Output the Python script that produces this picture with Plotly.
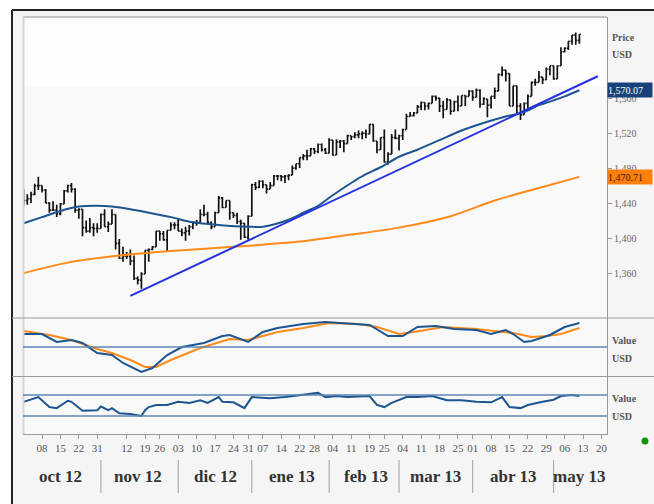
import pandas as pd
import plotly.graph_objects as go
from plotly.subplots import make_subplots

FONT = "Liberation Serif"

# ---------------- data ----------------
holidays = ["2012-10-29", "2012-10-30", "2012-11-22", "2012-12-25",
            "2013-01-01", "2013-01-21", "2013-02-18", "2013-03-29"]
dates = [d.strftime("%Y-%m-%d") for d in pd.bdate_range("2012-10-01", "2013-05-10")
         if d.strftime("%Y-%m-%d") not in holidays]

close = [1444,1446,1451,1461,1461,1456,1441,1433,1433,1429,1440,1455,1461,1457,1433,1434,1413,1409,1413,1412,1412,
         1428,1414,1417,1428,1395,1378,1380,1380,1375,1355,1353,1360,1387,1388,1391,1409,1406,1399,1410,1416,1416,
         1409,1407,1409,1414,1418,1419,1428,1428,1419,1414,1430,1447,1436,1444,1430,1427,1420,1418,1402,1426,
         1462,1459,1466,1462,1457,1461,1472,1472,1471,1472,1473,1481,1486,1493,1495,1495,1503,1500,1508,1502,1498,
         1513,1496,1511,1512,1509,1518,1517,1519,1520,1521,1520,1531,1512,1502,1516,1488,1497,1516,1515,
         1518,1525,1540,1541,1544,1551,1556,1552,1555,1563,1561,1552,1548,1559,1546,1557,1552,1564,1563,1569,
         1562,1570,1554,1560,1553,1563,1569,1588,1593,1589,1552,1575,1552,1542,1555,1563,1579,1579,1585,1582,1594,1598,
         1583,1598,1614,1618,1626,1633,1627,1634]
open_ = [1440,1444,1446,1451,1461,1461,1456,1441,1433,1433,1429,1440,1455,1461,1457,1433,1434,1413,1409,1413,1412,
         1412,1428,1414,1417,1428,1395,1378,1380,1380,1375,1355,1353,1360,1387,1388,1391,1409,1406,1399,1410,1416,
         1416,1409,1407,1409,1414,1418,1419,1428,1428,1419,1414,1430,1447,1436,1444,1430,1427,1420,1418,1402,
         1426,1462,1459,1466,1462,1457,1461,1472,1472,1471,1472,1473,1481,1486,1493,1495,1495,1503,1500,1508,1502,
         1498,1513,1496,1511,1512,1509,1518,1517,1519,1520,1521,1520,1531,1512,1502,1516,1488,1497,1516,
         1515,1518,1525,1540,1541,1544,1551,1556,1552,1555,1563,1561,1552,1548,1559,1546,1557,1552,1564,1563,
         1569,1562,1570,1554,1560,1553,1563,1569,1588,1593,1589,1552,1575,1552,1542,1555,1563,1579,1579,1585,1582,1594,
         1598,1583,1598,1614,1618,1626,1633,1627]
high = [1457,1451,1454,1463,1471,1461,1457,1442,1443,1439,1441,1456,1462,1464,1458,1435,1434,1421,1424,1418,1418,
        1429,1434,1420,1434,1428,1400,1391,1385,1388,1381,1357,1362,1387,1389,1392,1409,1409,1409,1410,1419,1419,
        1423,1412,1414,1416,1420,1422,1434,1439,1431,1420,1431,1449,1448,1444,1444,1430,1430,1422,1418,1427,
        1463,1465,1467,1467,1462,1465,1473,1473,1473,1473,1474,1484,1486,1493,1497,1502,1504,1504,1509,1509,1504,
        1515,1513,1514,1513,1513,1519,1518,1522,1524,1523,1525,1531,1531,1512,1516,1525,1499,1520,1525,
        1519,1526,1543,1545,1545,1553,1557,1556,1556,1564,1564,1561,1558,1561,1559,1558,1564,1564,1564,1570,
        1570,1572,1571,1562,1560,1563,1573,1589,1597,1593,1589,1575,1575,1555,1556,1565,1580,1583,1592,1585,1596,1598,
        1598,1598,1619,1619,1626,1633,1636,1634]
low = [1438,1439,1441,1450,1456,1453,1441,1430,1432,1425,1427,1440,1453,1453,1430,1423,1403,1407,1407,1403,1407,
       1412,1414,1408,1417,1388,1377,1374,1377,1370,1353,1348,1343,1360,1374,1387,1391,1398,1398,1385,1410,1411,
       1409,1403,1398,1404,1411,1415,1419,1426,1417,1411,1414,1430,1435,1436,1422,1424,1417,1399,1401,1399,
       1426,1456,1458,1458,1452,1457,1461,1467,1466,1464,1467,1473,1479,1481,1490,1490,1495,1497,1498,1500,1497,
       1498,1495,1496,1504,1499,1509,1513,1515,1515,1514,1515,1520,1511,1498,1502,1487,1485,1497,1514,
       1501,1513,1525,1540,1540,1544,1547,1547,1548,1555,1558,1545,1538,1548,1542,1546,1546,1552,1552,1563,
       1558,1562,1550,1553,1539,1549,1560,1569,1586,1580,1552,1552,1543,1536,1542,1549,1563,1575,1579,1577,1582,1587,
       1582,1583,1598,1613,1616,1622,1622,1623]

ma_fast_dates = ["2012-10-01","2012-10-08","2012-10-15","2012-10-22","2012-10-31","2012-11-06","2012-11-13",
                 "2012-11-20","2012-11-29","2012-12-07","2012-12-18","2012-12-31","2013-01-07","2013-01-16",
                 "2013-01-23","2013-01-29","2013-02-04","2013-02-11","2013-02-15","2013-02-22","2013-03-01",
                 "2013-03-08","2013-03-18","2013-03-26","2013-04-05","2013-04-12","2013-04-19","2013-04-25",
                 "2013-04-30","2013-05-06","2013-05-10"]
ma_fast = [1418,1425,1432,1437,1438,1437,1434,1430,1425,1419,1416,1414,1414,1422,1430,1438,1450,1464,1474,
           1482,1494,1502,1513,1524,1534,1540,1545,1553,1557,1563,1570]

ma_slow_dates = ["2012-10-01","2012-10-17","2012-11-08","2012-11-28","2012-12-24","2013-01-22","2013-02-11",
                 "2013-03-01","2013-03-21","2013-04-09","2013-04-23","2013-05-10"]
ma_slow = [1361,1373,1381,1386,1391,1397,1405,1413,1426,1444,1456,1471]

trend_dates = ["2012-11-13", "2013-05-17"]
trend_vals = [1335, 1586]

last_fast_label = "1,570.07"
last_fast_value = 1570.07
last_slow_label = "1,470.71"
last_slow_value = 1470.71

osc_dates = ["2012-10-01","2012-10-08","2012-10-12","2012-10-18","2012-10-23","2012-10-31","2012-11-06",
             "2012-11-09","2012-11-16","2012-11-21","2012-11-28","2012-12-04","2012-12-12","2012-12-19",
             "2012-12-21","2012-12-31","2013-01-07","2013-01-11","2013-01-23","2013-01-31","2013-02-06",
             "2013-02-19","2013-02-26","2013-03-04","2013-03-08","2013-03-15","2013-03-22","2013-04-02",
             "2013-04-08","2013-04-12","2013-04-16","2013-04-19","2013-04-23","2013-04-30","2013-05-06","2013-05-10"]
osc_vals = [13,13,5,7,4,-6,-8,-16,-25,-21,-8,0,4,11,12,5,15,19,23,25,24,22,11,11,20,21,18,17,13,17,13,5,6,12,20,24]

sig_dates = ["2012-10-01","2012-10-10","2012-10-18","2012-10-31","2012-11-06","2012-11-13","2012-11-19",
             "2012-11-23","2012-11-29","2012-12-11","2012-12-21","2012-12-31","2013-01-11","2013-01-23",
             "2013-02-01","2013-02-13","2013-02-21","2013-03-01","2013-03-07","2013-03-19","2013-04-02",
             "2013-04-11","2013-04-16","2013-04-23","2013-04-29","2013-05-03","2013-05-10"]
sig_vals = [16,12,7,-2,-6,-13,-20,-20,-13,-1,8,7,15,19,24,23,20,13,15,20,18,15,14,10,11,13,19]

rsi_dates = ["2012-10-01","2012-10-05","2012-10-10","2012-10-12","2012-10-17","2012-10-18","2012-10-23",
             "2012-10-31","2012-11-01","2012-11-05","2012-11-06","2012-11-08","2012-11-13","2012-11-16",
             "2012-11-19","2012-11-20","2012-11-23","2012-11-28","2012-12-03","2012-12-06","2012-12-11",
             "2012-12-13","2012-12-18","2012-12-19","2012-12-24","2012-12-28","2013-01-02","2013-01-09",
             "2013-01-15","2013-01-22","2013-01-29","2013-01-31","2013-02-05","2013-02-08","2013-02-19",
             "2013-02-21","2013-02-25","2013-02-27","2013-03-05","2013-03-08","2013-03-14","2013-03-20",
             "2013-03-26","2013-04-02","2013-04-08","2013-04-11","2013-04-15","2013-04-18","2013-04-22",
             "2013-04-26","2013-05-01","2013-05-03","2013-05-08","2013-05-10"]
rsi_vals = [57,66,47,45,59,57,40,41,48,41,45,35,34,30,41,47,51,51,57,55,60,55,66,57,56,45,66,64,66,70,74,66,
            68,66,68,51,47,55,66,66,68,60,60,57,56,66,47,45,51,57,61,68,70,68]
rsi_levels = [30, 70]

tick_dates = ["2012-10-08","2012-10-15","2012-10-22","2012-10-31","2012-11-12","2012-11-19","2012-11-26",
              "2012-12-03","2012-12-10","2012-12-17","2012-12-24","2012-12-31","2013-01-07","2013-01-14",
              "2013-01-22","2013-01-28","2013-02-04","2013-02-11","2013-02-19","2013-02-25","2013-03-04",
              "2013-03-11","2013-03-18","2013-03-25","2013-04-01","2013-04-08","2013-04-15","2013-04-22",
              "2013-04-29","2013-05-06","2013-05-13","2013-05-20"]
tick_text = [d[-2:] for d in tick_dates]

month_labels = ["oct 12", "nov 12", "dic 12", "ene 13", "feb 13", "mar 13", "abr 13", "may 13"]
month_label_dates = ["2012-10-15", "2012-11-15", "2012-12-17", "2013-01-17", "2013-02-15",
                     "2013-03-15", "2013-04-16", "2013-05-10"]
month_starts = ["2012-11-01", "2012-12-03", "2013-01-02", "2013-02-01", "2013-03-01", "2013-04-01", "2013-05-01"]

price_ticks = [1360, 1400, 1440, 1480, 1520, 1560]

# ---------------- figure ----------------
W, H = 654, 504
ML, MR, MT, MB = 23, 47, 17, 70
PW, PH = W - ML - MR, H - MT - MB
def px(x):
    return (x - ML) / PW
def py(y):
    return (H - MB - y) / PH

BLUE = "#1c5590"
ORANGE = "#ff8a1c"
TREND = "#2530e0"
LEVEL = "#5d86b4"

fig = make_subplots(rows=3, cols=1, shared_xaxes=True, vertical_spacing=0)

fig.add_trace(go.Ohlc(x=dates, open=open_, high=high, low=low, close=close,
                      increasing_line_color="#111", decreasing_line_color="#111",
                      line_width=1.7, tickwidth=0.4, showlegend=False, hoverinfo="skip"), row=1, col=1)
fig.add_trace(go.Scatter(x=ma_fast_dates, y=ma_fast, mode="lines",
                         line=dict(color=BLUE, width=2, shape="spline", smoothing=0.8),
                         showlegend=False, hoverinfo="skip"), row=1, col=1)
fig.add_trace(go.Scatter(x=ma_slow_dates, y=ma_slow, mode="lines",
                         line=dict(color=ORANGE, width=2, shape="spline", smoothing=0.8),
                         showlegend=False, hoverinfo="skip"), row=1, col=1)
fig.add_trace(go.Scatter(x=trend_dates, y=trend_vals, mode="lines",
                         line=dict(color=TREND, width=2), showlegend=False, hoverinfo="skip"), row=1, col=1)

fig.add_trace(go.Scatter(x=sig_dates, y=sig_vals, mode="lines", line=dict(color=ORANGE, width=2),
                         showlegend=False, hoverinfo="skip"), row=2, col=1)
fig.add_trace(go.Scatter(x=osc_dates, y=osc_vals, mode="lines", line=dict(color=BLUE, width=2),
                         showlegend=False, hoverinfo="skip"), row=2, col=1)
fig.add_trace(go.Scatter(x=rsi_dates, y=rsi_vals, mode="lines", line=dict(color=BLUE, width=2),
                         showlegend=False, hoverinfo="skip"), row=3, col=1)

# axes
xr = ["2012-09-28 20:00", "2013-05-21 12:00"]
breaks = [dict(bounds=["sat", "mon"]), dict(values=holidays)]
fig.update_xaxes(range=xr, rangebreaks=breaks, showgrid=False, zeroline=False,
                 rangeslider_visible=False, showticklabels=False, ticks="")
fig.update_xaxes(row=3, col=1, showticklabels=True, ticks="outside", ticklen=4, tickcolor="#999",
                 tickvals=tick_dates, ticktext=tick_text, tickangle=0,
                 tickfont=dict(family=FONT, size=11, color="#555"),
                 showline=True, linecolor="#9a9a9a", linewidth=1)

fig.update_yaxes(side="right", showgrid=False, zeroline=False, showline=True,
                 linecolor="#9a9a9a", linewidth=1)
fig.update_yaxes(row=1, col=1, range=[1309.7, 1653.7], tickvals=price_ticks, tickformat=",",
                 ticks="outside", ticklen=4, tickcolor="#999",
                 tickfont=dict(family=FONT, size=10, color="#666"))
fig.update_yaxes(row=2, col=1, range=[-29.5, 29], showticklabels=False, ticks="")
fig.update_yaxes(row=3, col=1, range=[-4.3, 104.3], showticklabels=False, ticks="")

fig.update_layout(
    width=W, height=H, margin=dict(l=ML, r=MR, t=MT, b=MB),
    paper_bgcolor="#ffffff", plot_bgcolor="rgba(0,0,0,0)",
    font=dict(family=FONT), showlegend=False, hovermode=False,
    yaxis=dict(domain=[py(318), 1]),
    yaxis2=dict(domain=[py(376.5), py(318)]),
    yaxis3=dict(domain=[0, py(377)]),
)

shapes = []
# frame interior and plot backgrounds
shapes.append(dict(type="rect", xref="paper", yref="paper", x0=px(12), x1=px(654), y0=py(504), y1=py(10),
                   fillcolor="#f5f5f5", line=dict(width=0), layer="below"))
shapes.append(dict(type="rect", xref="paper", yref="paper", x0=0, x1=1, y0=0, y1=1,
                   fillcolor="#f9f9f9", line=dict(width=0), layer="below"))
shapes.append(dict(type="rect", xref="paper", yref="paper", x0=0, x1=1, y0=py(87), y1=1,
                   fillcolor="#fdfdfd", line=dict(width=0), layer="below"))
# outer frame lines
shapes.append(dict(type="line", xref="paper", yref="paper", x0=px(12), x1=px(654), y0=py(10), y1=py(10),
                   line=dict(color="#222", width=2)))
shapes.append(dict(type="line", xref="paper", yref="paper", x0=px(12), x1=px(12), y0=py(10), y1=py(504),
                   line=dict(color="#222", width=2)))
# plot area inner edges
shapes.append(dict(type="line", xref="paper", yref="paper", x0=0, x1=1, y0=1, y1=1,
                   line=dict(color="#c4c4c4", width=2)))
shapes.append(dict(type="line", xref="paper", yref="paper", x0=px(23.5), x1=px(23.5), y0=0, y1=1,
                   line=dict(color="#d6d6d6", width=2)))
# panel separators
for yy in (318, 376.5):
    shapes.append(dict(type="line", xref="paper", yref="paper", x0=px(12), x1=px(654), y0=py(yy), y1=py(yy),
                       line=dict(color="#9a9a9a", width=1)))
# level lines
shapes.append(dict(type="line", xref="x2 domain", yref="y2", x0=0, x1=1, y0=0, y1=0,
                   line=dict(color=LEVEL, width=1.5)))
for lv in rsi_levels:
    shapes.append(dict(type="line", xref="x3 domain", yref="y3", x0=0, x1=1, y0=lv, y1=lv,
                       line=dict(color=LEVEL, width=1.5)))
# month separators
for d in month_starts:
    shapes.append(dict(type="line", xref="x3", yref="paper", x0=d, x1=d, y0=py(460), y1=py(493),
                       line=dict(color="#a0a0a0", width=1)))
# green status dot
shapes.append(dict(type="circle", xref="paper", yref="paper", xsizemode="pixel", ysizemode="pixel",
                   xanchor=px(645), yanchor=py(441), x0=-3.5, x1=3.5, y0=-3.5, y1=3.5,
                   fillcolor="#0a960a", line=dict(width=0)))
fig.update_layout(shapes=shapes)

ann = []
ann.append(dict(xref="paper", yref="y", x=1, y=last_fast_value, xanchor="left", yanchor="middle",
                text=last_fast_label, showarrow=False, bgcolor="#17437a", width=44, height=14,
                align="left", borderpad=0, font=dict(family=FONT, size=10, color="#ffffff")))
ann.append(dict(xref="paper", yref="y", x=1, y=last_slow_value, xanchor="left", yanchor="middle",
                text=last_slow_label, showarrow=False, bgcolor="#ff7f0a", width=44, height=14,
                align="left", borderpad=0, font=dict(family=FONT, size=10, color="#3a1800")))
for txt, yy in (("Price", 37), ("USD", 55), ("Value", 340), ("USD", 358), ("Value", 398), ("USD", 416)):
    ann.append(dict(xref="paper", yref="paper", x=px(610), y=py(yy), xanchor="left", yanchor="middle",
                    text=txt, showarrow=False, font=dict(family=FONT, size=10, color="#555", weight="bold")))
for lab, d in zip(month_labels, month_label_dates):
    ann.append(dict(xref="x3", yref="paper", x=d, y=py(476), xanchor="center", yanchor="middle",
                    text=lab, showarrow=False, font=dict(family=FONT, size=17, color="#333", weight="bold")))
fig.update_layout(annotations=ann)

fig.write_html("out.html", config={"displayModeBar": False, "staticPlot": True},
               post_script="document.body.style.margin='0';document.body.style.overflow='hidden';")
